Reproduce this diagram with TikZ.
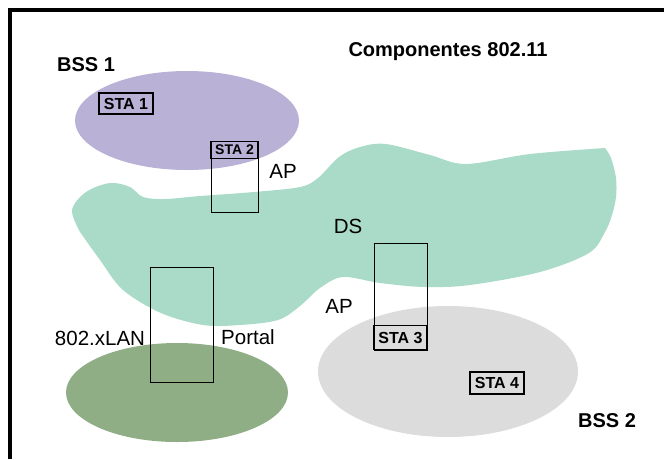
\documentclass[tikz,border=0pt]{standalone}
\usepackage{fontspec}
\setmainfont{Liberation Sans}
\usetikzlibrary{positioning,shapes.geometric}
\definecolor{bsspurple}{RGB}{185,177,214}
\definecolor{dsgreen}{RGB}{170,219,200}
\definecolor{langreen}{RGB}{143,174,134}
\definecolor{bssgray}{RGB}{220,220,220}

\begin{document}
\begin{tikzpicture}[
                x=1pt,y=-1pt,
                node distance=0pt,
                region/.style={ellipse,inner sep=0pt},
                apbox/.style={draw,line width=0.9pt,inner sep=0pt},
                stabox/.style={draw,line width=1.2pt,inner sep=0pt,font=\bfseries\fontsize{16}{16}\selectfont},
                heading/.style={inner sep=0pt,font=\bfseries\fontsize{20}{20}\selectfont},
                plain/.style={inner sep=0pt,font=\fontsize{20.5}{20.5}\selectfont}
            ]
                \useasboundingbox (0,0) rectangle (664,459);
                % frame
                \draw[line width=4pt] (10,459) -- (10,10.3) -- (664,10.3);
                % areas
                \node (bss1) [region,fill=bsspurple,minimum width=224pt,minimum height=99pt] at (187,120.5) {};
                \node (lan)  [region,fill=langreen,minimum width=222pt,minimum height=99pt] at (177,392.5) {};
                \node (bss2) [region,fill=bssgray,minimum width=260pt,minimum height=131pt] at (448,371.5) {};
                \fill[dsgreen] plot[smooth,tension=0.55] coordinates {
                    (80,232) (72,210) (86,192) (110,183) (130,187) (143,197) (165,199) (200,196)
                    (254,192) (300,187) (318,178) (339,157) (360,147) (386,144) (430,155)
                    (466,164) (530,154) (605,148)}
                    -- plot[smooth,tension=0.55] coordinates {
                    (605,148) (611,158) (616,178) (616,197) (612,215) (605,232) (589,253)
                    (540,272) (470,285) (424,287) (380,283) (343,277) (320,288) (300,306)
                    (278,320) (240,325) (203,325) (161,313) (123,290) (100,260) (80,232)}
                    -- cycle;
                % access points and portal
                \node (ap1)    [apbox,minimum width=47pt,minimum height=71pt]  at (234.5,176.5) {};
                \node (portal) [apbox,minimum width=63pt,minimum height=115pt] at (181.5,324.5) {};
                \node (ap2)    [apbox,minimum width=53pt,minimum height=107pt] at (400.5,296.5) {};
                % stations
                \node (sta1) [stabox,minimum width=54pt,minimum height=21pt] at (126,103.5) {STA 1};
                \node (sta2) [stabox,minimum width=47pt,minimum height=17pt,font=\bfseries\fontsize{14}{14}\selectfont,below=of ap1.north] {STA 2};
                \node (sta3) [stabox,minimum width=53pt,minimum height=24pt,above=of ap2.south] {STA 3};
                \node (sta4) [stabox,minimum width=54pt,minimum height=22pt] at (497,383) {STA 4};
                % labels
                \node (title)   [heading] at (448,52)  {Componentes 802.11};
                \node (bss1lbl) [heading] at (86,65)   {BSS 1};
                \node (bss2lbl) [heading] at (607,421) {BSS 2};
                \node (ap1lbl)  [plain] at (283,171)   {AP};
                \node (dslbl)   [plain] at (348,226)   {DS};
                \node (ap2lbl)  [plain] at (339,306)   {AP};
                \node (lanlbl)  [plain] at (100,338)   {802.xLAN};
                \node (portlbl) [plain] at (248,337)   {Portal};
            \end{tikzpicture}
\end{document}
